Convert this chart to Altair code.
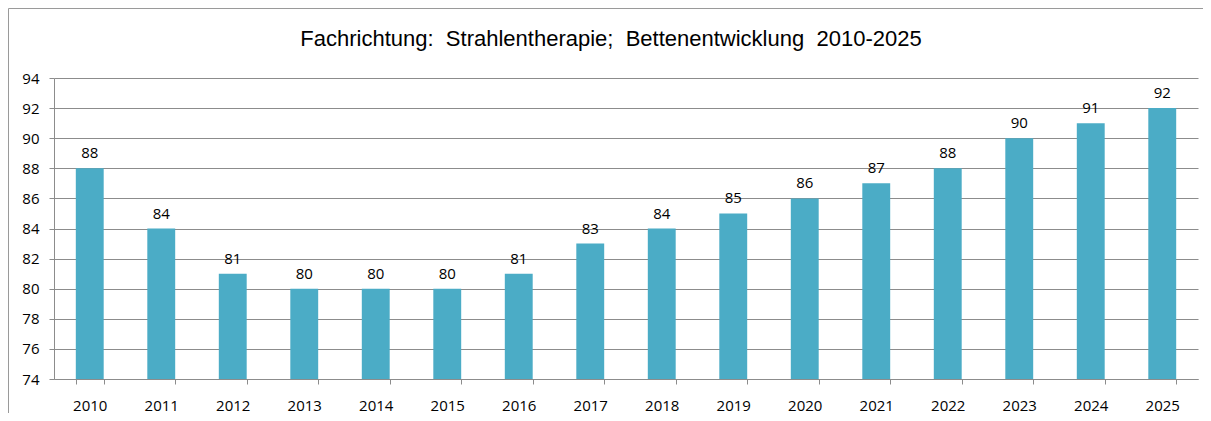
import altair as alt
import pandas as pd

title_text = "Fachrichtung:\u00a0 Strahlentherapie;\u00a0 Bettenentwicklung\u00a0 2010-2025"
years = ["2010", "2011", "2012", "2013", "2014", "2015", "2016", "2017",
         "2018", "2019", "2020", "2021", "2022", "2023", "2024", "2025"]
beds = [88, 84, 81, 80, 80, 80, 81, 83, 84, 85, 86, 87, 88, 90, 91, 92]
y_ticks = [74, 76, 78, 80, 82, 84, 86, 88, 90, 92, 94]

df = pd.DataFrame({"Jahr": years, "Betten": beds})

BAR = "#4BACC6"
GRID = "#8c8c8c"
FONT = "Open Sans"

x = alt.X("Jahr:O", sort=years,
          scale=alt.Scale(paddingInner=0.61, paddingOuter=0.305),
          axis=alt.Axis(title=None, labelAngle=0, tickBand="extent",
                        labelFont=FONT, labelFontSize=15, labelColor="#000000",
                        labelPadding=14, tickSize=5, tickColor=GRID,
                        domainColor=GRID))
y = alt.Y("Betten:Q",
          scale=alt.Scale(domain=[74, 94], nice=False, zero=False),
          axis=alt.Axis(title=None, values=y_ticks, grid=True, gridColor=GRID,
                        gridWidth=1, labelFont=FONT, labelFontSize=15,
                        labelColor="#000000", labelPadding=10, tickSize=5,
                        tickColor=GRID, domainColor=GRID))

base = alt.Chart(df)
bars = base.mark_bar(color=BAR, clip=True).encode(x=x, y=y)
labels = base.mark_text(baseline="bottom", dy=-7, font=FONT, fontSize=15,
                        color="#000000").encode(x=x, y=y, text="Betten:Q")

one = pd.DataFrame({"t": [title_text]})
title = alt.Chart(one).mark_text(font="Liberation Sans", fontSize=22,
                                 color="#000000", align="center",
                                 baseline="alphabetic").encode(
    x=alt.value(557), y=alt.value(-32), text="t:N")

border_left = alt.Chart(one).mark_rule(color="#9a9a9a", strokeWidth=1).encode(
    x=alt.value(-45.5), x2=alt.value(-45.5), y=alt.value(-69.5), y2=alt.value(340))
border_top = alt.Chart(one).mark_rule(color="#9a9a9a", strokeWidth=1).encode(
    x=alt.value(-45.5), x2=alt.value(1300), y=alt.value(-69.5), y2=alt.value(-69.5))

chart = alt.layer(bars, labels, title, border_left, border_top).properties(
    width=1144, height=301,
    autosize=alt.AutoSizeParams(type="none"),
    padding={"left": 46, "top": 70, "right": 5, "bottom": 34},
).configure_view(stroke=None)

chart.save("out.html", embed_options={"renderer": "svg", "actions": False})
